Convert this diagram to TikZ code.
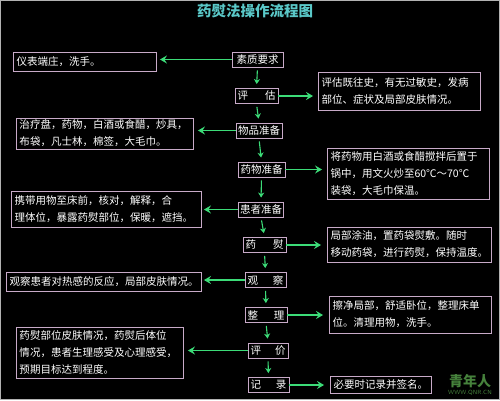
\documentclass[tikz,border=0pt]{standalone}
\usepackage{fontspec}
\newfontfamily\cjk{Noto Sans CJK SC}
\usetikzlibrary{arrows.meta}
\definecolor{boxc}{RGB}{200,170,200}
\definecolor{arrc}{RGB}{60,220,120}
\definecolor{titlec}{RGB}{90,200,200}
\definecolor{wmc}{RGB}{70,130,60}
\begin{document}
\begin{tikzpicture}[x=1pt,y=-1pt,
  stepnode/.style={draw=boxc, line width=0.9pt, text=white, font=\cjk\fontsize{10.5}{13}\selectfont, inner xsep=1.5pt, inner ysep=0pt, minimum height=15pt},
  note/.style={draw=boxc, line width=0.9pt, text=white, font=\cjk\fontsize{10.5}{17}\selectfont, align=left, inner xsep=3pt, inner ysep=0pt},
  arr/.style={draw=arrc, line width=1.1pt, -{Stealth[length=7pt,width=8pt,inset=2.5pt]}},
  darr/.style={draw=arrc, line width=1.1pt, -{Stealth[length=5pt,width=6pt,inset=1.5pt]}, shorten <=3pt, shorten >=4pt}]
\path[fill=black] (0,0) rectangle (500,400);
\draw[gray!60, line width=1pt] (0.5,0.5) rectangle (499.5,399.5);

\node[text=titlec, font=\cjk\bfseries\fontsize{14.5}{16}\selectfont] (title) at (255,11) {药熨法操作流程图};

% centre column
\node[stepnode, minimum width=51pt] (n1) at (257.5,59.5) {素质要求};
\node[stepnode, minimum width=43pt] (n2) at (256.5,96) {\makebox[38pt][s]{评\hfill 估}};
\node[stepnode, minimum width=46pt] (n3) at (259,130.5) {物品准备};
\node[stepnode, minimum width=47pt] (n4) at (261.5,169.5) {药物准备};
\node[stepnode, minimum width=44pt] (n5) at (261,209.5) {患者准备};
\node[stepnode, minimum width=43pt] (n6) at (264.5,245) {\makebox[38pt][s]{药\hfill 熨}};
\node[stepnode, minimum width=41pt] (n7) at (265.5,280) {\makebox[36pt][s]{观\hfill 察}};
\node[stepnode, minimum width=42pt] (n8) at (266,315) {\makebox[37pt][s]{整\hfill 理}};
\node[stepnode, minimum width=40pt] (n9) at (268,350.5) {\makebox[35pt][s]{评\hfill 价}};
\node[stepnode, minimum width=41pt] (n10) at (268.5,385) {\makebox[36pt][s]{记\hfill 录}};

% left notes
\node[note, text width=137pt, minimum height=19pt] (l1) at (85,61.5) {仪表端庄，洗手。};
\node[note, text width=171pt, minimum height=31pt] (l2) at (105,133.5) {治疗盘，药物，白酒或食醋，炒具，\\布袋，凡士林，棉签，大毛巾。};
\node[note, text width=184pt, minimum height=36pt] (l3) at (106.5,209) {携带用物至床前，核对，解释，合\\理体位，暴露药熨部位，保暖，遮挡。};
\node[note, text width=189pt, minimum height=19pt] (l4) at (104,281.5) {观察患者对热感的反应，局部皮肤情况。};
\node[note, text width=161pt, minimum height=51pt] (l5) at (100,352.5) {药熨部位皮肤情况，药熨后体位\\情况，患者生理感受及心理感受，\\预期目标达到程度。};

% right notes
\node[note, text width=156pt, minimum height=38pt] (r1) at (399.5,91) {评估既往史，有无过敏史，发病\\部位、症状及局部皮肤情况。};
\node[note, text width=156pt, minimum height=51pt] (r2) at (408.5,173.5) {将药物用白酒或食醋搅拌后置于\\锅中，用文火炒至60℃～70℃\\装袋，大毛巾保温。};
\node[note, text width=158pt, minimum height=35pt] (r3) at (409.5,244.5) {局部涂油，置药袋熨敷。随时\\移动药袋，进行药熨，保持温度。};
\node[note, text width=156pt, minimum height=37pt] (r4) at (410.5,314.5) {擦净局部，舒适卧位，整理床单\\位。清理用物，洗手。};
\node[note, text width=95pt, minimum height=17pt] (r5) at (381,384.5) {必要时记录并签名。};

% down arrows
\draw[darr] (n1.south) -- (n2.north);
\draw[darr] (n2.south) -- (n3.north);
\draw[darr] (n3.south) -- (n4.north);
\draw[darr] (n4.south) -- (n5.north);
\draw[darr] (n5.south) -- (n6.north);
\draw[darr] (n6.south) -- (n7.north);
\draw[darr] (n7.south) -- (n8.north);
\draw[darr] (n8.south) -- (n9.north);
\draw[darr] (n9.south) -- (n10.north);

% left arrows
\draw[arr, shorten >=3pt] (n1.west) -- (n1.west -| l1.east);
\draw[arr, shorten >=4pt] (n3.west) -- (n3.west -| l2.east);
\draw[arr, shorten >=2pt] (n5.west) -- (n5.west -| l3.east);
\draw[arr, shorten >=2pt] (n7.west) -- (n7.west -| l4.east);
\draw[arr, shorten >=4pt] (n9.west) -- (n9.west -| l5.east);

% right arrows
\draw[arr, shorten >=5pt] (n2.east) -- (n2.east -| r1.west);
\draw[arr, shorten >=5pt] (n4.east) -- (n4.east -| r2.west);
\draw[arr, shorten >=6pt] (n6.east) -- (n6.east -| r3.west);
\draw[arr, shorten >=6pt] (n8.east) -- (n8.east -| r4.west);
\draw[arr, shorten >=6pt] (n10.east) -- (n10.east -| r5.west);

% watermark
\node[text=wmc, font=\cjk\bfseries\fontsize{14}{14}\selectfont, inner sep=0pt] (wm) at (470,381) {青年人};
\node[text=wmc, font=\sffamily\fontsize{6}{6}\selectfont, inner sep=0pt] (wm2) at (470,393) {WWW.QNR.CN};
\end{tikzpicture}
\end{document}
